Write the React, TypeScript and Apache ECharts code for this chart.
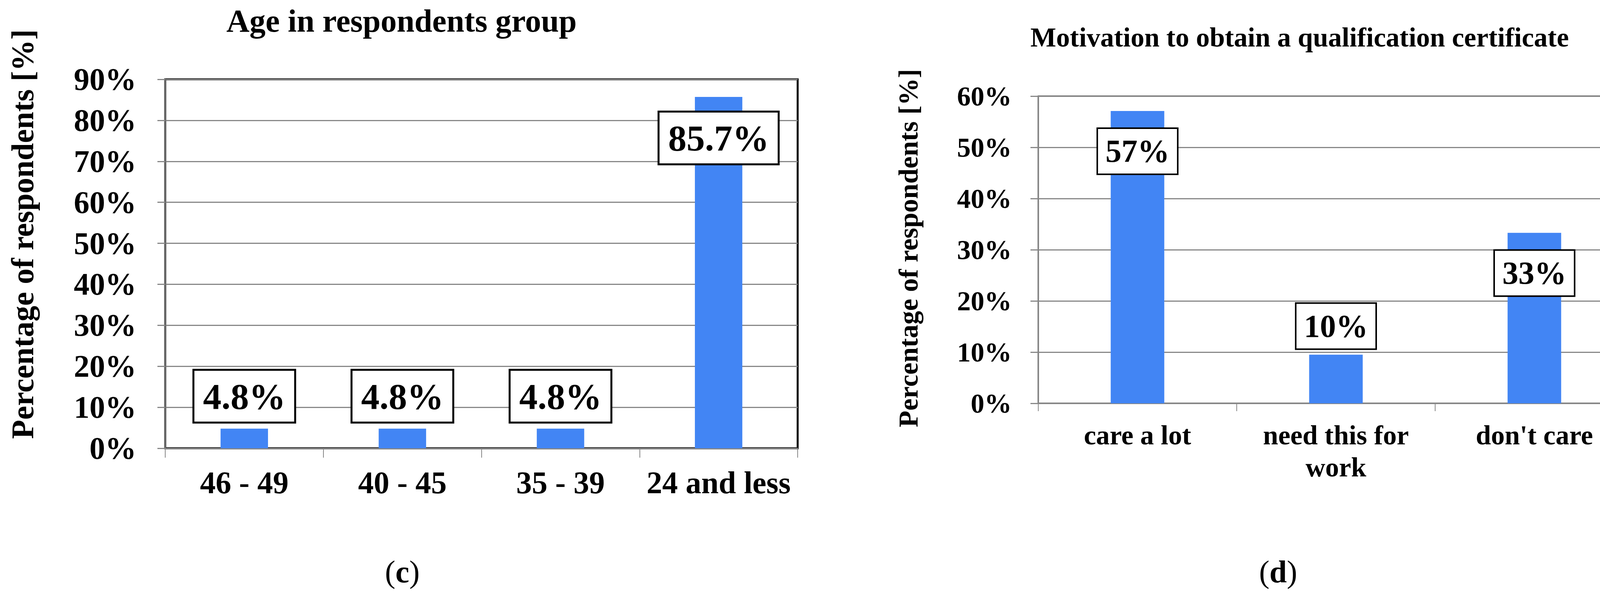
import React, { useEffect, useRef } from "react";
import * as echarts from "echarts";

const FONT = "'Liberation Serif', 'Times New Roman', serif";

const ageTitle = "Age in respondents group";
const ageCategories = ["46 - 49", "40 - 45", "35 - 39", "24 and less"];
const ageValues = [4.8, 4.8, 4.8, 85.7];
const ageLabels = ["4.8%", "4.8%", "4.8%", "85.7%"];
const ageAxisMax = 90;

const motTitle = "Motivation to obtain a qualification certificate";
const motCategories = ["care a lot", "need this for\nwork", "don't care"];
const motValues = [57.1, 9.5, 33.3];
const motLabels = ["57%", "10%", "33%"];
const motAxisMax = 60;

const axisInterval = 10;
const yName = "Percentage of respondents [%]";
const panelLetters = ["c", "d"];

const BLUE = "#4285F4";
const GRAY = "#888888";

function buildData(values: number[], labels: string[], big: boolean) {
  const fs = big ? 94 : 82;
  return values.map((v, i) => {
    const inside = v > 20;
    return {
      value: v,
      label: {
        show: true,
        formatter: labels[i],
        position: inside ? "insideTop" : "top",
        distance: inside ? (big ? 40 : 46) : (big ? 18 : 16),
        color: "#000",
        fontFamily: FONT,
        fontWeight: "bold",
        fontSize: fs,
        lineHeight: big ? 100 : 88,
        backgroundColor: "#fff",
        borderColor: "#000",
        borderWidth: big ? 5 : 4,
        padding: big ? [15, 22, 15, 22] : [13, 19, 13, 19],
      },
    };
  });
}

export default function App() {
  const ref = useRef<HTMLDivElement>(null);

  useEffect(() => {
    document.body.style.margin = "0";
    if (!ref.current) return;
    const chart = echarts.init(ref.current, null, { renderer: "svg" });

    const option: any = {
      animation: false,
      backgroundColor: "#fff",
      grid: [
        {
          left: 423,
          top: 203,
          width: 1619,
          height: 944,
          show: true,
          borderColor: "#000",
          borderWidth: 5,
          backgroundColor: "transparent",
        },
        {
          left: 2658,
          top: 246,
          width: 1524,
          height: 786,
          show: true,
          borderColor: "#000",
          borderWidth: 3,
          backgroundColor: "transparent",
        },
      ],
      xAxis: [
        {
          type: "category",
          gridIndex: 0,
          data: ageCategories,
          offset: 4,
          axisLine: { show: true, lineStyle: { color: GRAY, width: 3 } },
          axisTick: { show: true, length: 24, lineStyle: { color: GRAY, width: 2 } },
          axisLabel: {
            color: "#000",
            fontFamily: FONT,
            fontWeight: "bold",
            fontSize: 80,
            margin: 44,
            interval: 0,
          },
        },
        {
          type: "category",
          gridIndex: 1,
          data: motCategories,
          axisLine: { show: true, lineStyle: { color: GRAY, width: 3 } },
          axisTick: { show: true, length: 20, lineStyle: { color: GRAY, width: 2 } },
          axisLabel: {
            color: "#000",
            fontFamily: FONT,
            fontWeight: "bold",
            fontSize: 70,
            lineHeight: 82,
            margin: 40,
            interval: 0,
          },
        },
      ],
      yAxis: [
        {
          type: "value",
          gridIndex: 0,
          min: 0,
          max: ageAxisMax,
          interval: axisInterval,
          axisLine: { show: true, lineStyle: { color: "#666", width: 4 } },
          axisTick: { show: true, length: 20, lineStyle: { color: GRAY, width: 3 } },
          splitLine: { show: true, lineStyle: { color: GRAY, width: 3 } },
          axisLabel: {
            color: "#000",
            fontFamily: FONT,
            fontWeight: "bold",
            fontSize: 80,
            margin: 74,
            formatter: "{value}%",
          },
        },
        {
          type: "value",
          gridIndex: 1,
          min: 0,
          max: motAxisMax,
          interval: axisInterval,
          axisLine: { show: true, lineStyle: { color: GRAY, width: 3 } },
          axisTick: { show: true, length: 20, lineStyle: { color: GRAY, width: 3 } },
          splitLine: { show: true, lineStyle: { color: GRAY, width: 3 } },
          axisLabel: {
            color: "#000",
            fontFamily: FONT,
            fontWeight: "bold",
            fontSize: 70,
            margin: 68,
            formatter: "{value}%",
          },
        },
      ],
      series: [
        {
          type: "bar",
          xAxisIndex: 0,
          yAxisIndex: 0,
          barWidth: "30%",
          itemStyle: { color: BLUE },
          data: buildData(ageValues, ageLabels, true),
          z: 3,
        },
        {
          type: "bar",
          xAxisIndex: 1,
          yAxisIndex: 1,
          barWidth: "27%",
          itemStyle: { color: BLUE },
          data: buildData(motValues, motLabels, false),
          z: 3,
        },
      ],
      graphic: [
        {
          type: "text",
          x: 1028,
          y: 53,
          style: {
            text: ageTitle,
            fill: "#000",
            fontFamily: FONT,
            fontWeight: "bold",
            fontSize: 82,
            textAlign: "center",
            textVerticalAlign: "middle",
            align: "center",
            verticalAlign: "middle",
          },
        },
        {
          type: "text",
          x: 3327,
          y: 95,
          style: {
            text: motTitle,
            fill: "#000",
            fontFamily: FONT,
            fontWeight: "bold",
            fontSize: 70,
            textAlign: "center",
            textVerticalAlign: "middle",
            align: "center",
            verticalAlign: "middle",
          },
        },
        {
          type: "text",
          x: 58,
          y: 599,
          rotation: Math.PI / 2,
          style: {
            text: yName,
            fill: "#000",
            fontFamily: FONT,
            fontWeight: "bold",
            fontSize: 80,
            textAlign: "center",
            textVerticalAlign: "middle",
            align: "center",
            verticalAlign: "middle",
          },
        },
        {
          type: "text",
          x: 2325,
          y: 635,
          rotation: Math.PI / 2,
          style: {
            text: yName,
            fill: "#000",
            fontFamily: FONT,
            fontWeight: "bold",
            fontSize: 70,
            textAlign: "center",
            textVerticalAlign: "middle",
            align: "center",
            verticalAlign: "middle",
          },
        },
        {
          type: "text",
          x: 1030,
          y: 1463,
          style: {
            text: "({b|" + panelLetters[0] + "})",
            fill: "#000",
            fontFamily: FONT,
            fontSize: 80,
            textAlign: "center",
            textVerticalAlign: "middle",
            align: "center",
            verticalAlign: "middle",
            rich: { b: { fontFamily: FONT, fontSize: 80, fontWeight: "bold", fill: "#000" } },
          },
        },
        {
          type: "text",
          x: 3272,
          y: 1463,
          style: {
            text: "({b|" + panelLetters[1] + "})",
            fill: "#000",
            fontFamily: FONT,
            fontSize: 80,
            textAlign: "center",
            textVerticalAlign: "middle",
            align: "center",
            verticalAlign: "middle",
            rich: { b: { fontFamily: FONT, fontSize: 80, fontWeight: "bold", fill: "#000" } },
          },
        },
      ],
    };

    chart.setOption(option);
    return () => {
      chart.dispose();
    };
  }, []);

  return <div ref={ref} style={{ width: 4213, height: 1525 }} />;
}
